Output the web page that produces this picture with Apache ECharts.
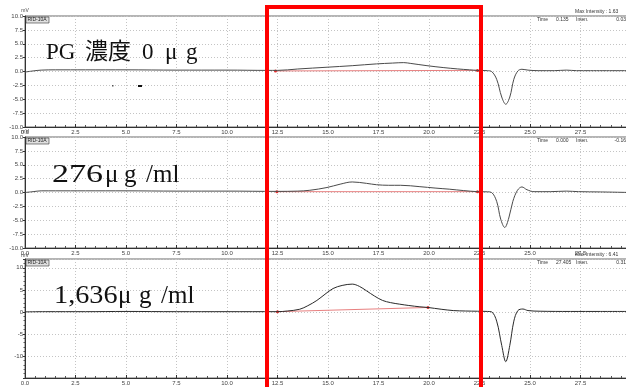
<!DOCTYPE html>
<html><head><meta charset="utf-8">
<script src="https://cdn.jsdelivr.net/npm/echarts@6/dist/echarts.min.js"></script>
<style>html,body{margin:0;padding:0;background:#fff}#c{width:626px;height:387px}</style>
</head><body><div id="c"></div>
<script>
// ---- data (time in min, signal in mV) ----
const p1Time   = [0, 0.4, 0.8, 1.5, 3, 5, 7.5, 10, 12, 12.5, 13.5, 14.95, 16.2, 17.4, 18.2, 18.75, 19.1, 19.9, 20.7, 21.4, 22.0, 22.4, 22.9, 23.1, 23.35, 23.6, 23.8, 24.0, 24.2, 24.4, 24.6, 24.9, 25.4, 26.2, 26.8, 27.3, 28, 30];
const p1Signal = [-0.1, 0.1, 0.25, 0.3, 0.3, 0.3, 0.25, 0.25, 0.2, 0.2, 0.45, 0.77, 1.05, 1.37, 1.52, 1.6, 1.45, 1.05, 0.71, 0.47, 0.3, 0.2, 0.15, 0.0, -1.4, -4.6, -5.9, -4.6, -1.4, 0.1, 0.4, 0.25, 0.15, 0.15, 0.25, 0.15, 0.15, 0.15];
const p1BaseTime = [12.4, 22.4];
const p1BaseVal  = [0.1, 0.2];

const p2Time   = [0, 0.4, 0.8, 1.5, 3, 5, 7.5, 10, 12.5, 13.5, 14.1, 14.95, 15.6, 16.2, 16.9, 17.4, 18.0, 18.6, 19.55, 20.3, 21.0, 21.7, 22.4, 22.9, 23.1, 23.35, 23.55, 23.75, 23.95, 24.15, 24.38, 24.6, 24.85, 25.2, 26, 26.8, 27.4, 28.5, 30];
const p2Signal = [0.0, 0.15, 0.3, 0.3, 0.3, 0.3, 0.25, 0.25, 0.2, 0.25, 0.4, 0.9, 1.5, 1.9, 1.65, 1.4, 1.3, 1.3, 1.05, 0.8, 0.6, 0.35, 0.15, 0.12, 0.0, -1.6, -4.8, -6.3, -4.6, -1.6, 0.4, 1.0, 0.5, 0.15, 0.15, 0.25, 0.15, 0.1, 0.0];
const p2BaseTime = [12.47, 22.4];
const p2BaseVal  = [0.15, 0.15];

const p3Time   = [0, 1, 3, 5, 7.5, 10, 12.5, 13.0, 13.6, 14.0, 14.45, 14.85, 15.25, 15.7, 16.2, 16.55, 16.9, 17.3, 17.7, 18.1, 18.55, 19.0, 19.55, 19.95, 20.6, 21.2, 21.8, 22.4, 22.9, 23.1, 23.35, 23.6, 23.8, 24.0, 24.2, 24.4, 24.65, 24.9, 25.5, 27, 28.5, 30];
const p3Signal = [0.0, 0.05, 0.05, 0.1, 0.05, 0.05, 0.05, 0.2, 0.6, 1.4, 2.6, 4.0, 5.3, 6.0, 6.3, 5.8, 4.8, 3.6, 2.6, 2.1, 1.75, 1.45, 1.15, 1.0, 0.6, 0.3, 0.2, 0.15, 0.1, 0.0, -2.1, -7.6, -11.3, -7.6, -2.1, 0.3, 0.65, 0.3, 0.15, 0.1, 0.1, 0.1];
const p3BaseTime = [12.5, 19.95];
const p3BaseVal  = [0.05, 1.0];

const yTicks12 = [-10, -7.5, -5, -2.5, 0, 2.5, 5, 7.5, 10];
const yTicks3  = [-10, -5, 0, 5, 10];
const sampleLabels = [
  ['PG', '濃度', '0', 'μ', 'g'],
  ['276', 'μ', 'g', '/ml'],
  ['1,636', 'μ', 'g', '/ml']
];
const headerInfo = [
  {maxI: 'Max Intensity : 1.63', time: '0.135', inten: '0.03'},
  {maxI: '', time: '0.000', inten: '-0.16'},
  {maxI: 'Max Intensity : 6.41', time: '27.405', inten: '0.31'}
];

const zip = (a, b) => a.map((v, i) => [v, b[i]]);

const chart = echarts.init(document.getElementById('c'), null, {renderer: 'canvas'});

const grids = [
  {left: 25, right: -5, top: 16, height: 111},
  {left: 25, right: -5, top: 137, height: 111},
  {left: 25, right: -5, top: 259, height: 119}
].map(g => Object.assign({show: true, borderColor: '#6a6a6a', borderWidth: 1, backgroundColor: '#fff', outerBoundsMode: 'none', containLabel: false}, g));

const xAxes = [0, 1, 2].map(i => ({
  gridIndex: i, type: 'value', min: 0, max: 30, interval: 2.5,
  axisLine: {show: true, onZero: false, lineStyle: {color: '#333', width: 1}},
  axisTick: {show: true, inside: true, length: 3, lineStyle: {color: '#333'}},
  minorTick: {show: true, splitNumber: 5, length: 2, lineStyle: {color: '#555'}},
  axisLabel: {fontSize: 6, color: '#444', margin: 2, fontFamily: 'Liberation Sans',
    formatter: v => v === 30 ? 'min' : v.toFixed(1)},
  splitLine: {show: true, lineStyle: {color: '#c4c4c4', type: [1, 2], width: 1}}
}));

const yAxisBase = (i, min, max, interval, fmt) => ({
  gridIndex: i, type: 'value', min, max, interval,
  name: 'mV', nameLocation: 'end', nameGap: 1,
  nameTextStyle: {fontSize: 5, color: '#444', align: 'center', padding: [0, 0, 0, 0]},
  axisLine: {show: true, onZero: false, lineStyle: {color: '#333', width: 1}},
  axisTick: {show: true, inside: false, length: 2, lineStyle: {color: '#333'}},
  axisLabel: {fontSize: 6, color: '#444', margin: 2, fontFamily: 'Liberation Sans', formatter: fmt},
  splitLine: {show: true, lineStyle: {color: '#c4c4c4', type: [1, 2], width: 1}}
});

const fmt12 = v => yTicks12.includes(v) ? v.toFixed(1) : '';
const fmt3 = v => yTicks3.includes(v) ? String(v) : '';

const yAxes = [
  yAxisBase(0, -10, 10, 2.5, fmt12),
  yAxisBase(1, -10, 10, 2.5, fmt12),
  Object.assign(yAxisBase(2, -15, 12, 5, fmt3), {minorTick: {show: true, splitNumber: 5, length: 1.5, lineStyle: {color: '#555'}}})
];

const traces = [[p1Time, p1Signal], [p2Time, p2Signal], [p3Time, p3Signal]];
const bases = [[p1BaseTime, p1BaseVal], [p2BaseTime, p2BaseVal], [p3BaseTime, p3BaseVal]];
const series = [];
traces.forEach((t, i) => {
  series.push({
    type: 'line', xAxisIndex: i, yAxisIndex: i, data: zip(t[0], t[1]),
    smooth: 0.35, symbol: 'none', lineStyle: {color: i === 2 ? '#2a2a2a' : '#4a4a4a', width: 1},
    z: 3, silent: true, animation: false
  });
});
bases.forEach((b, i) => {
  series.push({
    type: 'line', xAxisIndex: i, yAxisIndex: i, data: zip(b[0], b[1]),
    symbol: 'circle', symbolSize: 3, showSymbol: true,
    itemStyle: {color: '#e03030'},
    lineStyle: {color: '#e88080', width: 1}, z: 2, silent: true, animation: false
  });
});

const graphics = [];
const panelTops = [16, 137, 259];
panelTops.forEach((top, i) => {
  graphics.push({type: 'rect', shape: {x: 26, y: top + 1, width: 23, height: 6},
    style: {fill: '#e0e0e0', stroke: '#333', lineWidth: 0.6}, z: 50});
  graphics.push({type: 'text', x: 27.5, y: top + 4, style: {text: 'RID-10A', fontSize: 5, fill: '#222',
    verticalAlign: 'middle', fontFamily: 'Liberation Sans'}, z: 51});
  const h = headerInfo[i];
  if (h.maxI) graphics.push({type: 'text', x: 575, y: top - 4, style: {text: h.maxI, fontSize: 5, fill: '#333', verticalAlign: 'middle', fontFamily: 'Liberation Sans'}, z: 51});
  graphics.push({type: 'text', x: 537, y: top + 3.5, style: {text: 'Time', fontSize: 5, fill: '#333', verticalAlign: 'middle', fontFamily: 'Liberation Sans'}, z: 51});
  graphics.push({type: 'text', x: 556, y: top + 3.5, style: {text: h.time, fontSize: 5, fill: '#333', verticalAlign: 'middle', fontFamily: 'Liberation Sans'}, z: 51});
  graphics.push({type: 'text', x: 576, y: top + 3.5, style: {text: 'Inten.', fontSize: 5, fill: '#333', verticalAlign: 'middle', fontFamily: 'Liberation Sans'}, z: 51});
  graphics.push({type: 'text', x: 626, y: top + 3.5, style: {text: h.inten, fontSize: 5, fill: '#333', verticalAlign: 'middle', align: 'right', fontFamily: 'Liberation Sans'}, z: 51});
});

const serif = '"Liberation Serif", "Noto Sans CJK JP", serif';
// [text index, x, y(middle), fontSize, scaleX]
const labelLayout = [
  [[0, 46, 53, 23, 1], [1, 85, 53, 23, 1], [2, 142, 53, 23, 1], [3, 165, 53, 23, 1], [4, 186, 53, 23, 1]],
  [[0, 52, 175, 25, 1.36], [1, 105, 175, 25, 1], [2, 124, 175, 25, 1], [3, 146, 175, 25, 1]],
  [[0, 54, 296, 25, 1.13], [1, 118, 296, 25, 1], [2, 139, 296, 25, 1], [3, 161, 296, 25, 1]]
];
labelLayout.forEach((pcs, p) => pcs.forEach(([k, x, y, fs, sx]) => {
  graphics.push({type: 'text', x, y, scaleX: sx, style: {text: sampleLabels[p][k], fontSize: fs, fill: '#111',
    verticalAlign: 'middle', fontFamily: serif}, z: 60});
}));
// stray marks in top panel
graphics.push({type: 'rect', shape: {x: 112, y: 85, width: 1.5, height: 1.5}, style: {fill: '#555'}, z: 40});
graphics.push({type: 'rect', shape: {x: 138, y: 85, width: 4, height: 2}, style: {fill: '#111'}, z: 40});
// red highlight frame
graphics.push({type: 'rect', shape: {x: 267, y: 7, width: 214, height: 400},
  style: {fill: 'none', stroke: '#ff0000', lineWidth: 4}, z: 100});

chart.setOption({
  animation: false,
  backgroundColor: '#fff',
  grid: grids, xAxis: xAxes, yAxis: yAxes, series, graphic: graphics
});
</script></body></html>
